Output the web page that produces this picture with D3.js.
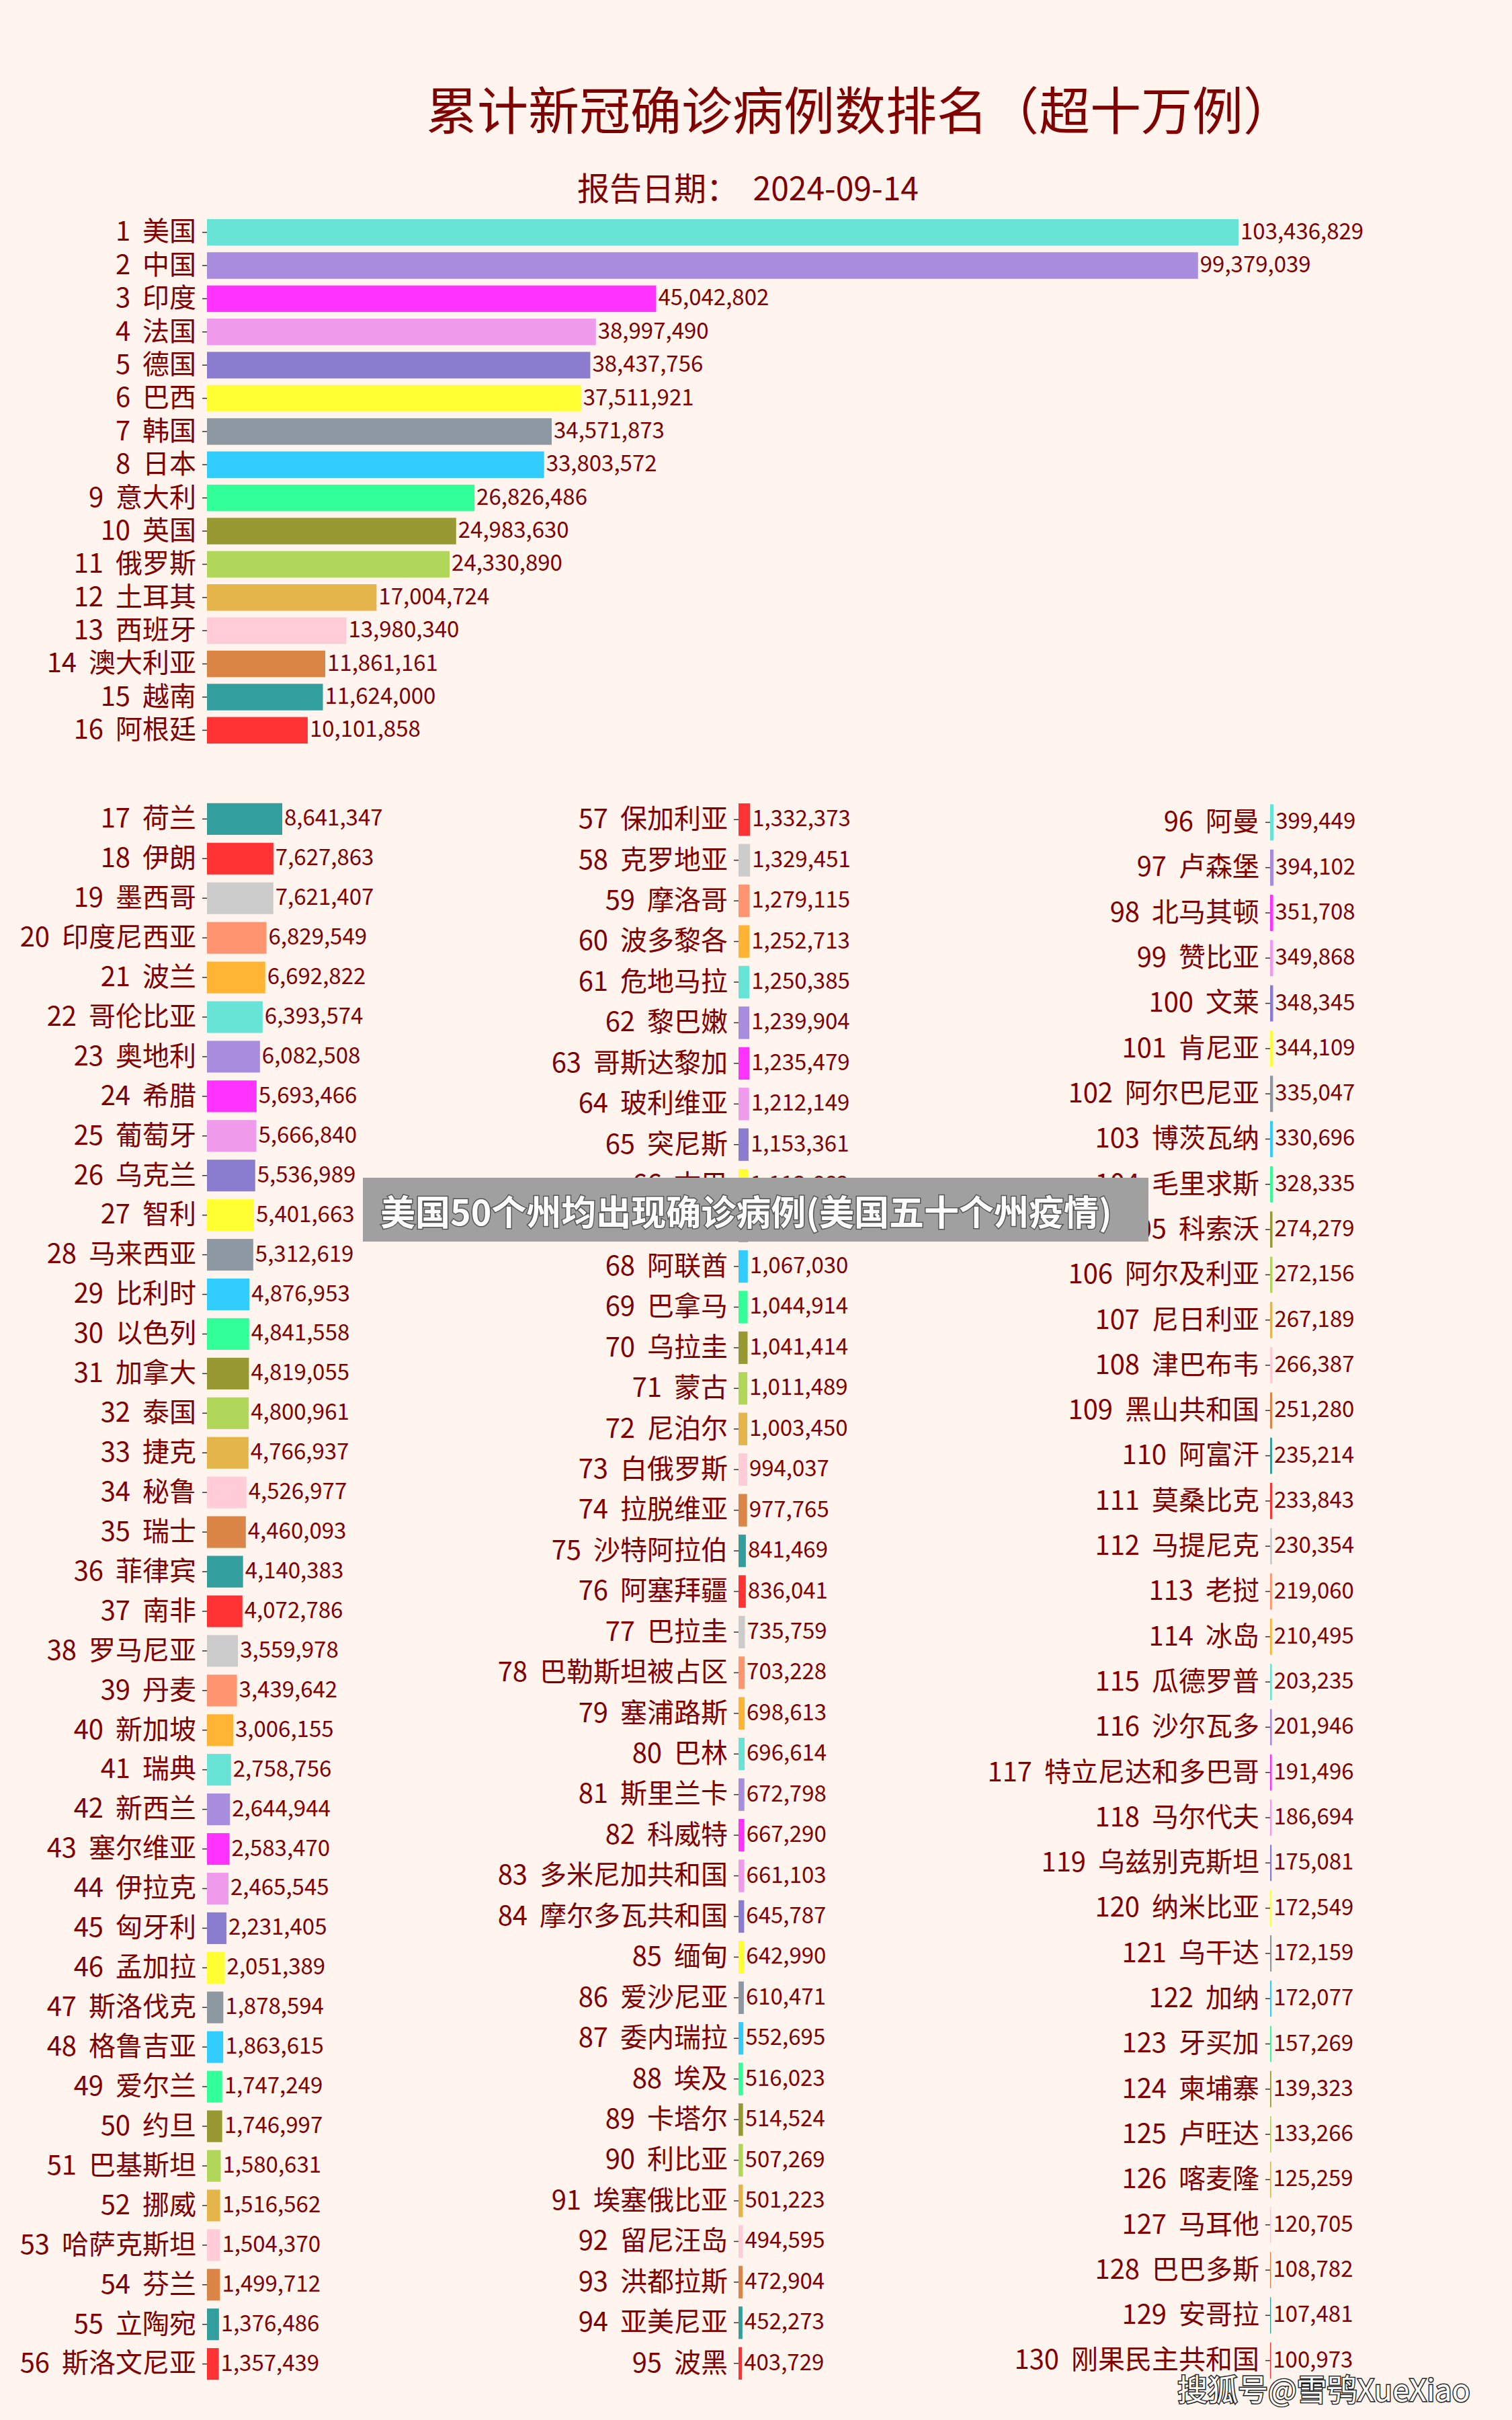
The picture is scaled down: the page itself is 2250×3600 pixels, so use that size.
<!DOCTYPE html>
<html>
<head>
<meta charset="utf-8">
<script src="https://cdn.jsdelivr.net/npm/d3@7"></script>
<style>
html, body { margin: 0; padding: 0; background: #FFF5EE; }
svg { display: block; }
text { font-family: "Noto Sans CJK SC", "Noto Sans", sans-serif; }
</style>
</head>
<body>
<svg id="chart" width="2250" height="3600"></svg>
<script>
// ---------------- DATA ----------------
const titleText = "累计新冠确诊病例数排名（超十万例）";
const subtitleText = "报告日期：  2024-09-14";

const topCountries = ["美国","中国","印度","法国","德国","巴西","韩国","日本","意大利","英国","俄罗斯","土耳其","西班牙","澳大利亚","越南","阿根廷"];
const topCases = [103436829,99379039,45042802,38997490,38437756,37511921,34571873,33803572,26826486,24983630,24330890,17004724,13980340,11861161,11624000,10101858];

const p1Countries = ["荷兰","伊朗","墨西哥","印度尼西亚","波兰","哥伦比亚","奥地利","希腊","葡萄牙","乌克兰","智利","马来西亚","比利时","以色列","加拿大","泰国","捷克","秘鲁","瑞士","菲律宾","南非","罗马尼亚","丹麦","新加坡","瑞典","新西兰","塞尔维亚","伊拉克","匈牙利","孟加拉","斯洛伐克","格鲁吉亚","爱尔兰","约旦","巴基斯坦","挪威","哈萨克斯坦","芬兰","立陶宛","斯洛文尼亚"];
const p1Cases = [8641347,7627863,7621407,6829549,6692822,6393574,6082508,5693466,5666840,5536989,5401663,5312619,4876953,4841558,4819055,4800961,4766937,4526977,4460093,4140383,4072786,3559978,3439642,3006155,2758756,2644944,2583470,2465545,2231405,2051389,1878594,1863615,1747249,1746997,1580631,1516562,1504370,1499712,1376486,1357439];

const p2Countries = ["保加利亚","克罗地亚","摩洛哥","波多黎各","危地马拉","黎巴嫩","哥斯达黎加","玻利维亚","突尼斯","古巴","厄瓜多尔","阿联酋","巴拿马","乌拉圭","蒙古","尼泊尔","白俄罗斯","拉脱维亚","沙特阿拉伯","阿塞拜疆","巴拉圭","巴勒斯坦被占区","塞浦路斯","巴林","斯里兰卡","科威特","多米尼加共和国","摩尔多瓦共和国","缅甸","爱沙尼亚","委内瑞拉","埃及","卡塔尔","利比亚","埃塞俄比亚","留尼汪岛","洪都拉斯","亚美尼亚","波黑"];
const p2Cases = [1332373,1329451,1279115,1252713,1250385,1239904,1235479,1212149,1153361,1113662,1078297,1067030,1044914,1041414,1011489,1003450,994037,977765,841469,836041,735759,703228,698613,696614,672798,667290,661103,645787,642990,610471,552695,516023,514524,507269,501223,494595,472904,452273,403729];

const p3Countries = ["阿曼","卢森堡","北马其顿","赞比亚","文莱","肯尼亚","阿尔巴尼亚","博茨瓦纳","毛里求斯","科索沃","阿尔及利亚","尼日利亚","津巴布韦","黑山共和国","阿富汗","莫桑比克","马提尼克","老挝","冰岛","瓜德罗普","沙尔瓦多","特立尼达和多巴哥","马尔代夫","乌兹别克斯坦","纳米比亚","乌干达","加纳","牙买加","柬埔寨","卢旺达","喀麦隆","马耳他","巴巴多斯","安哥拉","刚果民主共和国"];
const p3Cases = [399449,394102,351708,349868,348345,344109,335047,330696,328335,274279,272156,267189,266387,251280,235214,233843,230354,219060,210495,203235,201946,191496,186694,175081,172549,172159,172077,157269,139323,133266,125259,120705,108782,107481,100973];

const palette = ["#68E4D7","#A88DDF","#FF33FF","#F09AEC","#8A7DD0","#FFFF33","#8E98A2","#33CCFF","#33FF99","#999933","#B0D65A","#E3B54A","#FFCCD8","#DB8547","#339E9E","#FF3333","#CCCCCC","#FF9570","#FFB433"];

const overlayText = "美国50个州均出现确诊病例(美国五十个州疫情)";
const sourceMark = "搜狐号@雪鸮XueXiao";

// ---------------- DRAW ----------------
const svg = d3.select("#chart");
const textColor = "#800000";
const fmt = d3.format(",");

svg.append("rect").attr("width", 2250).attr("height", 3600).attr("fill", "#FFF5EE");

svg.append("text")
  .attr("x", 1280).attr("y", 160)
  .attr("text-anchor", "middle").attr("dominant-baseline", "central")
  .attr("font-size", 76).attr("fill", textColor)
  .text(titleText);

svg.append("text")
  .attr("x", 859).attr("y", 277)
  .attr("dominant-baseline", "central")
  .attr("font-size", 48).attr("fill", textColor)
  .style("white-space", "pre")
  .text(subtitleText);

const topX = d3.scaleLinear().domain([0, d3.max(topCases)]).range([0, 1535]);
const botX = d3.scaleLinear().domain([0, d3.max(p1Cases)]).range([0, 112]);

function drawPanel(names, values, startRank, x0, yRange, xScale, colorOffset) {
  const labels = names.map((n, i) => `${startRank + i}  ${n}`);
  const y = d3.scaleBand().domain(labels).range(yRange).padding(0.2);
  const g = svg.append("g").attr("transform", `translate(${x0},0)`);

  g.selectAll("rect.bar").data(values).join("rect")
    .attr("class", "bar")
    .attr("x", 0)
    .attr("y", (d, i) => y(labels[i]))
    .attr("height", y.bandwidth())
    .attr("width", d => xScale(d))
    .attr("fill", (d, i) => palette[(i + colorOffset) % palette.length]);

  g.selectAll("text.val").data(values).join("text")
    .attr("class", "val")
    .attr("x", d => xScale(d) + 3)
    .attr("y", (d, i) => y(labels[i]) + y.bandwidth() / 2 - 4)
    .attr("dominant-baseline", "central")
    .attr("font-size", 33)
    .attr("fill", textColor)
    .text(d => fmt(d));

  const ax = g.append("g")
    .call(d3.axisLeft(y).tickSize(7).tickPadding(9));
  ax.select(".domain").remove();
  ax.attr("font-family", null).attr("font-size", null);
  ax.selectAll(".tick line").attr("stroke", "#333").attr("stroke-width", 1.5);
  ax.selectAll(".tick text")
    .attr("font-size", 40)
    .attr("fill", textColor)
    .style("white-space", "pre");
}

drawPanel(topCountries, topCases, 1, 308, [316, 1116], topX, 0);
drawPanel(p1Countries, p1Cases, 17, 308, [1183, 3552], botX, 14);
drawPanel(p2Countries, p2Cases, 57, 1099, [1183, 3552], botX, 15);
drawPanel(p3Countries, p3Cases, 96, 1890, [1183, 3552], botX, 0);

// overlay banner (present in the reference image)
svg.append("rect")
  .attr("x", 540).attr("y", 1752).attr("width", 1169).attr("height", 95)
  .attr("fill", "#A0A0A0");
svg.append("text")
  .attr("x", 566).attr("y", 1800)
  .attr("dominant-baseline", "central")
  .attr("font-size", 52).attr("font-weight", "bold")
  .attr("fill", "#FFFFFF")
  .attr("stroke", "#555").attr("stroke-width", 3)
  .style("paint-order", "stroke")
  .text(overlayText);

svg.append("text")
  .attr("x", 1752).attr("y", 3552)
  .attr("dominant-baseline", "central")
  .attr("font-size", 45)
  .attr("fill", "#FFFFFF")
  .attr("stroke", "#222").attr("stroke-width", 3)
  .style("paint-order", "stroke")
  .text(sourceMark);
</script>
</body>
</html>
